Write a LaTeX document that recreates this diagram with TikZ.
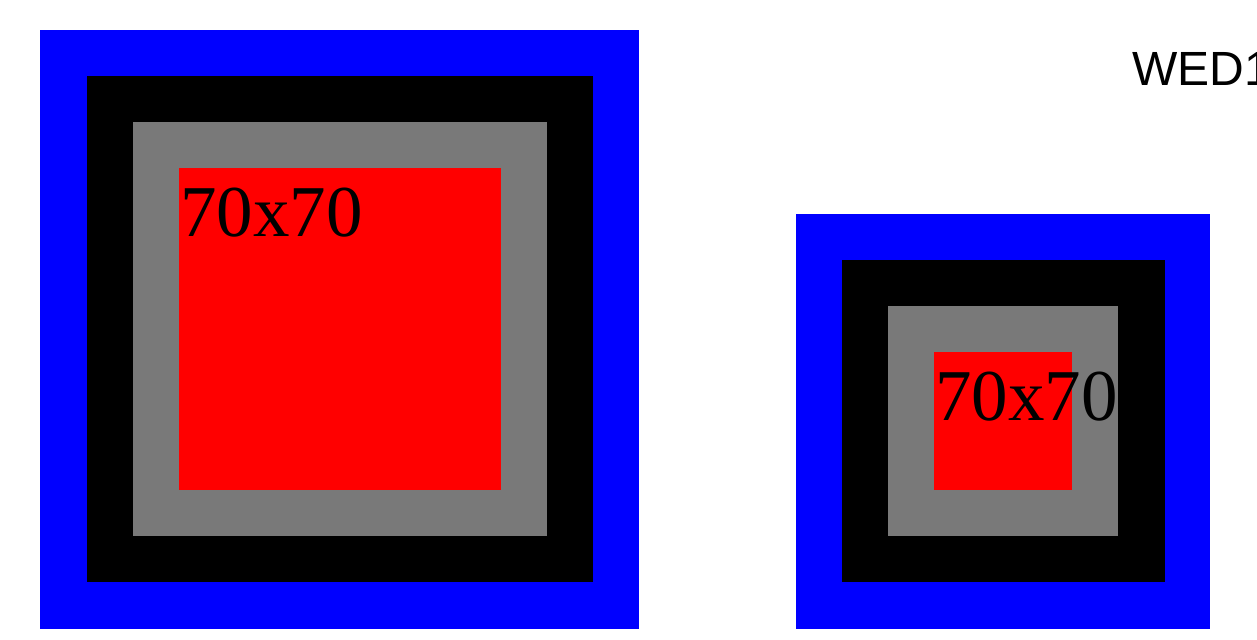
\documentclass[tikz,border=0pt]{standalone}
\usepackage{fontspec}
\setmainfont{Liberation Serif}
\newfontfamily\labelsans{Liberation Sans}
\usetikzlibrary{positioning}

\begin{document}
\begin{tikzpicture}[
  x=1bp, y=-1bp,
  ring/.style={fill=#1},
  size/.style={anchor=base west, inner sep=0pt, font=\fontsize{73bp}{80bp}\selectfont},
  tag/.style={anchor=base west, inner sep=0pt, font=\labelsans\fontsize{48bp}{56bp}\selectfont},
]
\useasboundingbox (0,0) rectangle (1257,640);
\fill[white] (0,0) rectangle (1257,640);
% left stack: blue, black, gray, red
\foreach \c/\a/\b/\e/\f in {blue/40/30/639/629, black/87/76/593/582, gray!105/133/122/547/536, red/179/168/501/490}{
  \fill[ring=\c] (\a,\b) rectangle (\e,\f);
}
% right stack
\foreach \c/\a/\b/\e/\f in {blue/796/214/1210/629, black/842/260/1165/582, gray!105/888/306/1118/536, red/934/352/1072/490}{
  \fill[ring=\c] (\a,\b) rectangle (\e,\f);
}
% labels
\node[size] (sizeL) at (180,237) {70x70};
\node[size] (sizeR) at (935,420) {70x70};
\node[tag] (wed) at (1132,86) {WED1};
\end{tikzpicture}
\end{document}
